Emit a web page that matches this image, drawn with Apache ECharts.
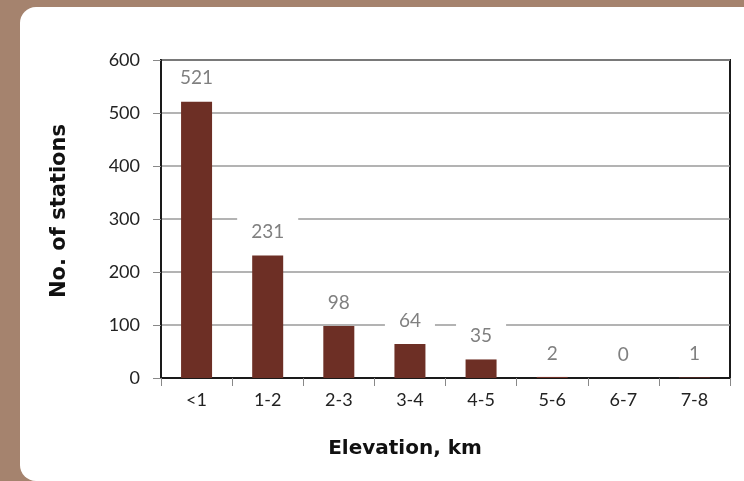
<!DOCTYPE html>
<html>
<head>
<meta charset="utf-8">
<script src="https://cdn.jsdelivr.net/npm/echarts@6/dist/echarts.min.js"></script>
<style>
  html, body { margin: 0; padding: 0; background: #a5836e; }
  #chart { width: 744px; height: 481px; }
</style>
</head>
<body>
<div id="chart"></div>
<script>
// Elevation bands (km) and the number of stations in each
const categories = ['<1', '1-2', '2-3', '3-4', '4-5', '5-6', '6-7', '7-8'];
const stations = [521, 231, 98, 64, 35, 2, 0, 1];
const yTicks = [0, 100, 200, 300, 400, 500, 600];

const chart = echarts.init(document.getElementById('chart'), null, { renderer: 'canvas' });

const font = 'Lato, "DejaVu Sans", sans-serif';
const titleFont = '"DejaVu Sans", Lato, sans-serif';

chart.setOption({
  backgroundColor: 'transparent',
  animation: false,
  graphic: [
    {
      // white card behind the chart
      type: 'rect',
      z: -10,
      silent: true,
      shape: { x: 20, y: 7, width: 760, height: 474, r: [16, 0, 0, 16] },
      style: { fill: '#ffffff' }
    },
    {
      type: 'text',
      x: 60,
      y: 211,
      rotation: Math.PI / 2,
      style: {
        text: 'No. of stations',
        font: 'bold 21px ' + titleFont,
        fill: '#111',
        align: 'center',
        verticalAlign: 'middle'
      }
    },
    {
      type: 'text',
      x: 405,
      y: 449,
      style: {
        text: 'Elevation, km',
        font: 'bold 20px ' + titleFont,
        fill: '#111',
        align: 'center',
        verticalAlign: 'middle'
      }
    }
  ],
  grid: {
    left: 161,
    top: 60,
    right: 14,
    bottom: 103,
    show: true,
    borderColor: '#1a1a1a',
    borderWidth: 2,
    backgroundColor: 'transparent'
  },
  xAxis: {
    type: 'category',
    data: categories,
    axisLine: { lineStyle: { color: '#1a1a1a', width: 2 } },
    axisTick: { show: true, length: 8, lineStyle: { color: '#888' } },
    axisLabel: { color: '#222', fontSize: 18, fontFamily: font, margin: 13 }
  },
  yAxis: {
    type: 'value',
    min: yTicks[0],
    max: yTicks[yTicks.length - 1],
    interval: yTicks[1] - yTicks[0],
    axisLine: { show: true, lineStyle: { color: '#1a1a1a', width: 2 } },
    axisTick: { show: true, length: 8, lineStyle: { color: '#888' } },
    axisLabel: { color: '#222', fontSize: 18, fontFamily: font, margin: 21 },
    splitLine: { show: true, lineStyle: { color: '#9a9a9a', width: 1.5 } }
  },
  series: [{
    type: 'bar',
    data: stations,
    barWidth: 31,
    itemStyle: { color: '#6d2f25' },
    label: {
      show: true,
      position: 'top',
      distance: 8,
      color: '#808080',
      fontSize: 19,
      fontFamily: font,
      backgroundColor: '#ffffff',
      padding: [6, 14]
    }
  }]
});
</script>
</body>
</html>
